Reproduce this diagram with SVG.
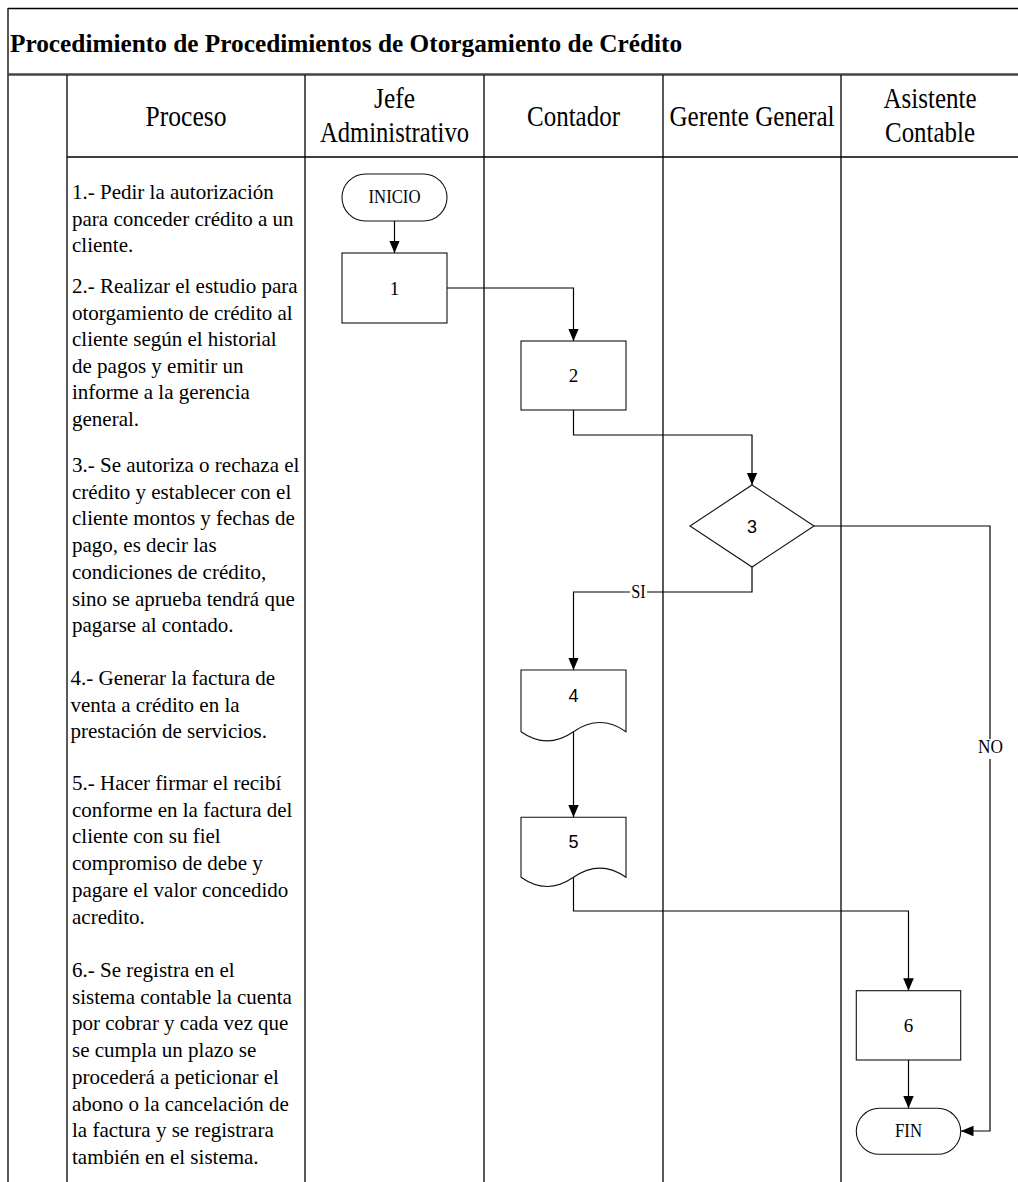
<svg xmlns="http://www.w3.org/2000/svg" width="1018" height="1182" viewBox="0 0 1018 1182">
  <style>
    .frame { stroke: #000; stroke-width: 1.3; fill: none; }
    .title { font-family: "Liberation Serif", "Times New Roman", serif; font-weight: bold; font-size: 25.3px; fill: #000; }
    .head { font-family: "Liberation Serif", "Times New Roman", serif; font-size: 29px; fill: #000; text-anchor: middle; }
    .step { font-family: "Liberation Serif", "Times New Roman", serif; font-size: 21px; fill: #000; }
    .shape { fill: #fff; stroke: #111; stroke-width: 1.1; }
    .lbl { font-family: "Liberation Serif", "Times New Roman", serif; font-size: 19px; fill: #000; text-anchor: middle; }
    .lbls { font-family: "Liberation Sans", Arial, sans-serif; font-size: 18px; fill: #000; text-anchor: middle; }
    .wire { fill: none; stroke: #000; stroke-width: 1.2; }
    .arrow { marker-end: url(#tip); }
  </style>
  <defs>
    <marker id="tip" markerUnits="userSpaceOnUse" markerWidth="13" markerHeight="11" refX="12.5" refY="5.3" orient="auto">
      <path d="M0,0 L12.5,5.3 L0,10.6 Z" fill="#000"/>
    </marker>
  </defs>

  <rect width="1018" height="1182" fill="#fff"/>

  <!-- outer frame, title band and lane grid -->
  <g id="frame">
    <line class="frame" x1="8" y1="8.5" x2="1018" y2="8.5"/>
    <line class="frame" x1="8" y1="8" x2="8" y2="1182"/>
    <line x1="8" y1="74.5" x2="1018" y2="74.5" stroke="#444" stroke-width="2.6"/>
    <line class="frame" x1="67" y1="75" x2="67" y2="1182"/>
    <line class="frame" x1="67" y1="157" x2="1018" y2="157"/>
    <line class="frame" x1="305" y1="75" x2="305" y2="1182"/>
    <line class="frame" x1="484" y1="75" x2="484" y2="1182"/>
    <line class="frame" x1="663" y1="75" x2="663" y2="1182"/>
    <line class="frame" x1="841" y1="75" x2="841" y2="1182"/>
  </g>

  <text class="title" x="10" y="52">Procedimiento de Procedimientos de Otorgamiento de Crédito</text>

  <!-- lane headings -->
  <g id="headings">
    <text class="head" x="186" y="126" textLength="81" lengthAdjust="spacingAndGlyphs">Proceso</text>
    <text class="head" x="394.5" y="108" textLength="41" lengthAdjust="spacingAndGlyphs">Jefe</text>
    <text class="head" x="394.5" y="141.5" textLength="149" lengthAdjust="spacingAndGlyphs">Administrativo</text>
    <text class="head" x="573.5" y="126" textLength="93" lengthAdjust="spacingAndGlyphs">Contador</text>
    <text class="head" x="752" y="126" textLength="165" lengthAdjust="spacingAndGlyphs">Gerente General</text>
    <text class="head" x="930" y="108" textLength="93" lengthAdjust="spacingAndGlyphs">Asistente</text>
    <text class="head" x="930" y="141.5" textLength="90" lengthAdjust="spacingAndGlyphs">Contable</text>
  </g>

  <!-- step descriptions -->
  <g id="steps">
    <text class="step" x="72">
      <tspan x="72" y="199">1.- Pedir la autorización</tspan>
      <tspan x="72" y="225.5">para conceder crédito a un</tspan>
      <tspan x="72" y="252">cliente.</tspan>
    </text>
    <text class="step" x="72">
      <tspan x="72" y="293">2.- Realizar el estudio para</tspan>
      <tspan x="72" y="319.6">otorgamiento de crédito al</tspan>
      <tspan x="72" y="346.2">cliente según el historial</tspan>
      <tspan x="72" y="372.8">de pagos y emitir un</tspan>
      <tspan x="72" y="399.4">informe a la gerencia</tspan>
      <tspan x="72" y="426">general.</tspan>
    </text>
    <text class="step" x="72">
      <tspan x="72" y="472">3.- Se autoriza o rechaza el</tspan>
      <tspan x="72" y="498.7">crédito y establecer con el</tspan>
      <tspan x="72" y="525.4">cliente montos y fechas de</tspan>
      <tspan x="72" y="552.1">pago, es decir las</tspan>
      <tspan x="72" y="578.8">condiciones de crédito,</tspan>
      <tspan x="72" y="605.5">sino se aprueba tendrá que</tspan>
      <tspan x="72" y="632.2">pagarse al contado.</tspan>
    </text>
    <text class="step" x="70.5">
      <tspan x="70.5" y="685">4.- Generar la factura de</tspan>
      <tspan x="70.5" y="711.7">venta a crédito en la</tspan>
      <tspan x="70.5" y="738.4">prestación de servicios.</tspan>
    </text>
    <text class="step" x="72">
      <tspan x="72" y="790">5.- Hacer firmar el recibí</tspan>
      <tspan x="72" y="816.7">conforme en la factura del</tspan>
      <tspan x="72" y="843.4">cliente con su fiel</tspan>
      <tspan x="72" y="870.1">compromiso de debe y</tspan>
      <tspan x="72" y="896.8">pagare el valor concedido</tspan>
      <tspan x="72" y="923.5">acredito.</tspan>
    </text>
    <text class="step" x="72">
      <tspan x="72" y="977">6.- Se registra en el</tspan>
      <tspan x="72" y="1003.7">sistema contable la cuenta</tspan>
      <tspan x="72" y="1030.4">por cobrar y cada vez que</tspan>
      <tspan x="72" y="1057.1">se cumpla un plazo se</tspan>
      <tspan x="72" y="1083.8">procederá a peticionar el</tspan>
      <tspan x="72" y="1110.5">abono o la cancelación de</tspan>
      <tspan x="72" y="1137.2">la factura y se registrara</tspan>
      <tspan x="72" y="1163.9">también en el sistema.</tspan>
    </text>
  </g>

  <!-- connectors -->
  <g id="connectors">
    <path class="wire arrow" d="M394.5,221 V253"/>
    <path class="wire arrow" d="M447,288 H573.5 V341"/>
    <path class="wire arrow" d="M573.5,410 V435 H752 V485"/>
    <path class="wire arrow" d="M752,567 V592 H573.5 V670"/>
    <path class="wire arrow" d="M814,526 H990 V1131 H961"/>
    <path class="wire arrow" d="M573.5,732 V817.3"/>
    <path class="wire arrow" d="M573.5,877.5 V911 H908.5 V990.7"/>
    <path class="wire arrow" d="M908.5,1060 V1108.3"/>
    <g id="label-si">
      <rect x="630" y="583" width="17" height="18" fill="#fff"/>
      <text class="lbl" x="638.5" y="597.7" textLength="14.5" lengthAdjust="spacingAndGlyphs">SI</text>
    </g>
    <g id="label-no">
      <rect x="976" y="739" width="29" height="20" fill="#fff"/>
      <text class="lbl" x="990.5" y="753.3" textLength="25" lengthAdjust="spacingAndGlyphs">NO</text>
    </g>
  </g>

  <!-- flowchart nodes -->
  <g id="node-inicio">
    <rect class="shape" x="342" y="174" width="105" height="47" rx="23.5" ry="23.5"/>
    <text class="lbl" x="394.5" y="203.3" textLength="52" lengthAdjust="spacingAndGlyphs">INICIO</text>
  </g>
  <g id="node-1">
    <rect class="shape" x="342" y="253" width="105" height="70"/>
    <text class="lbl" x="394.5" y="294.5">1</text>
  </g>
  <g id="node-2">
    <rect class="shape" x="521" y="341" width="105" height="69"/>
    <text class="lbl" x="573.5" y="382">2</text>
  </g>
  <g id="node-3">
    <polygon class="shape" points="752,485 814,526 752,567 690,526"/>
    <text class="lbls" x="752" y="532.5">3</text>
  </g>
  <g id="node-4">
    <path class="shape" d="M521,670 H626 V731.7 Q600,713.4 573.5,731.7 T521,731.7 Z"/>
    <text class="lbls" x="573.5" y="701.5">4</text>
  </g>
  <g id="node-5">
    <path class="shape" d="M521,817.3 H626 V877.3 Q600,859 573.5,877.3 T521,877.3 Z"/>
    <text class="lbls" x="573.5" y="848">5</text>
  </g>
  <g id="node-6">
    <rect class="shape" x="856.3" y="990.7" width="104.4" height="69.3"/>
    <text class="lbl" x="908.5" y="1031.5">6</text>
  </g>
  <g id="node-fin">
    <rect class="shape" x="856.3" y="1108.3" width="104.4" height="46" rx="23" ry="23"/>
    <text class="lbl" x="908.5" y="1137.3" textLength="27" lengthAdjust="spacingAndGlyphs">FIN</text>
  </g>
</svg>
